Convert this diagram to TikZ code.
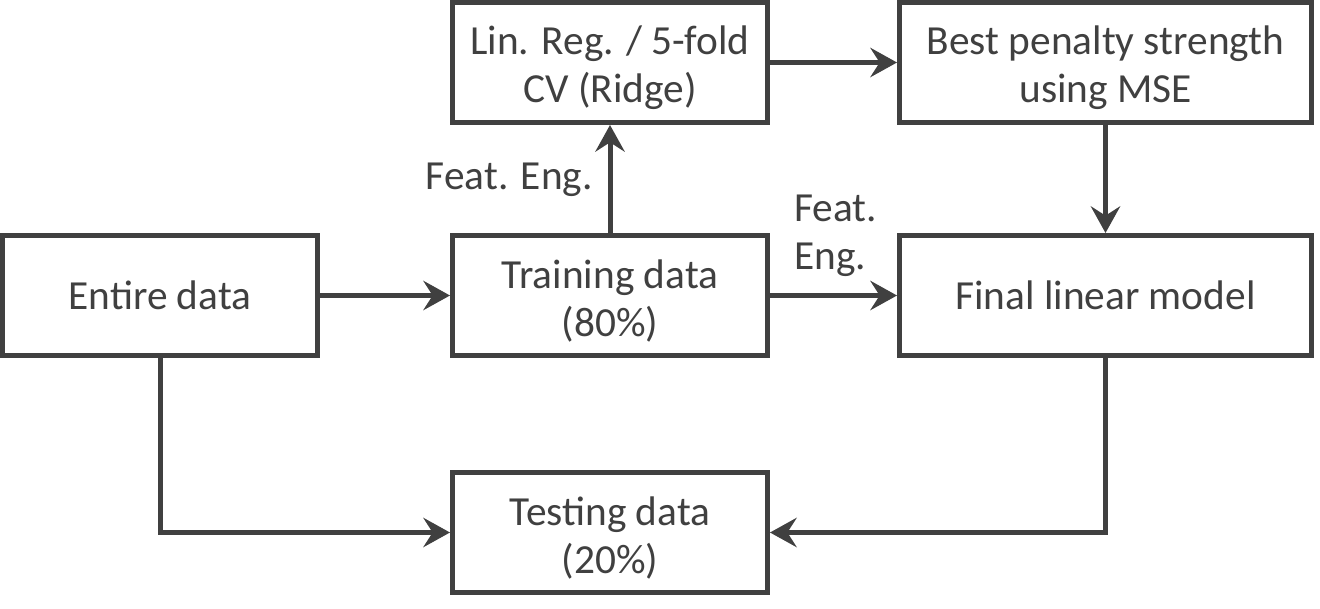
\documentclass[tikz,border=0pt]{standalone}
\usepackage{fontspec}
\setmainfont{Carlito}
\usetikzlibrary{arrows.meta}
\definecolor{dg}{RGB}{64,64,64}
\newcommand\topstrut{\rule{0pt}{30pt}}
\begin{document}
\begin{tikzpicture}[x=0.75pt,y=-0.75pt,
  box/.style={draw=dg, line width=3.75pt, fill=white, text=dg, align=center,
    minimum width=236.25pt, minimum height=90pt, inner sep=0pt,
    font=\fontsize{31}{36}\selectfont},
  widebox/.style={box, minimum width=309pt},
  arr/.style={draw=dg, line width=3.75pt, -{Stealth[length=20pt,width=22pt,inset=7pt]}},
  lbl/.style={text=dg, font=\fontsize{31}{36}\selectfont, inner sep=0pt}]
\useasboundingbox (0,0) rectangle (1320,609);
\node[box] (entire) at (160,295.5) {Entire data};
\node[box] (train) at (610,295.5) {\topstrut Training data\\(80\%)};
\node[box] (lin) at (610,62.5) {\topstrut Lin. Reg. / 5-fold\\CV (Ridge)};
\node[widebox] (best) at (1105.5,62.5) {\topstrut Best penalty strength\\using MSE};
\node[widebox] (final) at (1105.5,295.5) {Final linear model};
\node[box] (test) at (610,532.5) {\topstrut Testing data\\(20\%)};
\draw[arr] (entire.east) -- (train.west);
\draw[arr] (train.north) -- (lin.south);
\draw[arr] (lin.east) -- (best.west);
\draw[arr] (train.east) -- (final.west);
\draw[arr] (best.south) -- (final.north);
\draw[arr] (entire.south) |- (test.west);
\draw[arr] (final.south) |- (test.east);
\node[lbl, anchor=base east] (fe1) at (593,190) {Feat. Eng.};
\node[lbl, anchor=base west, align=left] (fe2) at (794,222) {Feat.};
\node[lbl, anchor=base west, align=left] (fe3) at (794,270) {Eng.};
\end{tikzpicture}
\end{document}
